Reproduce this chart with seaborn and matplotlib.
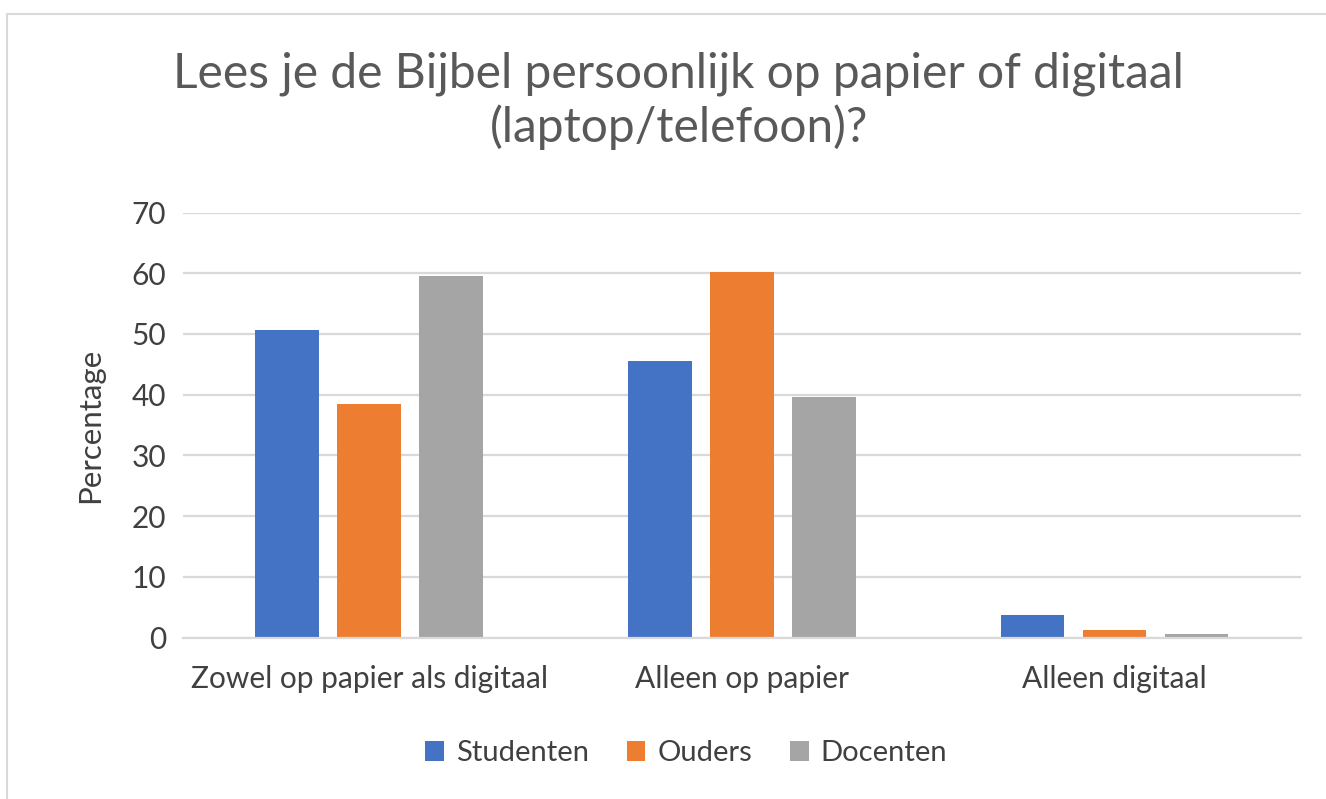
import pandas as pd
import matplotlib.pyplot as plt
import seaborn as sns
from matplotlib.patches import Rectangle

categories = ["Zowel op papier als digitaal", "Alleen op papier", "Alleen digitaal"]
groups = ["Studenten", "Ouders", "Docenten"]
studenten = [50.7, 45.6, 3.7]
ouders = [38.5, 60.2, 1.3]
docenten = [59.5, 39.7, 0.6]
colors = ["#4472C4", "#ED7D31", "#A5A5A5"]

rows = []
for g, vals in zip(groups, [studenten, ouders, docenten]):
    for c, v in zip(categories, vals):
        rows.append({"Categorie": c, "Groep": g, "Percentage": v})
df = pd.DataFrame(rows)

sns.set_style("white")
plt.rcParams["font.family"] = ["Lato", "DejaVu Sans"]

fig = plt.figure(figsize=(13.26, 7.99), dpi=100)
ax = fig.add_axes([0.138, 0.202, 0.843, 0.532])

sns.barplot(data=df, x="Categorie", y="Percentage", hue="Groep",
            palette=colors, width=0.66, gap=0.22, ax=ax, legend=True,
            saturation=1, edgecolor="none")

ax.set_ylim(0, 70)
ax.set_yticks(range(0, 71, 10))
ax.yaxis.grid(True, color="#D9D9D9", linewidth=1.6)
ax.set_axisbelow(True)
for s in ["top", "right", "left"]:
    ax.spines[s].set_visible(False)
ax.spines["bottom"].set_color("#D9D9D9")
ax.spines["bottom"].set_linewidth(1.6)
ax.tick_params(axis="both", length=0, labelsize=21.5, colors="#404040", pad=12)
ax.tick_params(axis="x", pad=20)
ax.set_xlabel("")
ax.set_ylabel("Percentage", fontsize=22.5, color="#404040", labelpad=20)

fig.suptitle("Lees je de Bijbel persoonlijk op papier of digitaal\n(laptop/telefoon)?",
             x=0.512, y=0.935, va="top", fontsize=34.5, color="#595959", linespacing=1.2)

ax.legend(loc="upper center", bbox_to_anchor=(0.45, -0.18), ncol=3, frameon=False,
          fontsize=21, labelcolor="#404040", handlelength=0.65, handleheight=0.65,
          handletextpad=0.4, columnspacing=1.3)

fig.patches.append(Rectangle((0.005, -0.1), 1.2, 1.082, transform=fig.transFigure,
                             fill=False, edgecolor="#D9D9D9", linewidth=1.5))

fig.savefig("out.png", dpi=100)
